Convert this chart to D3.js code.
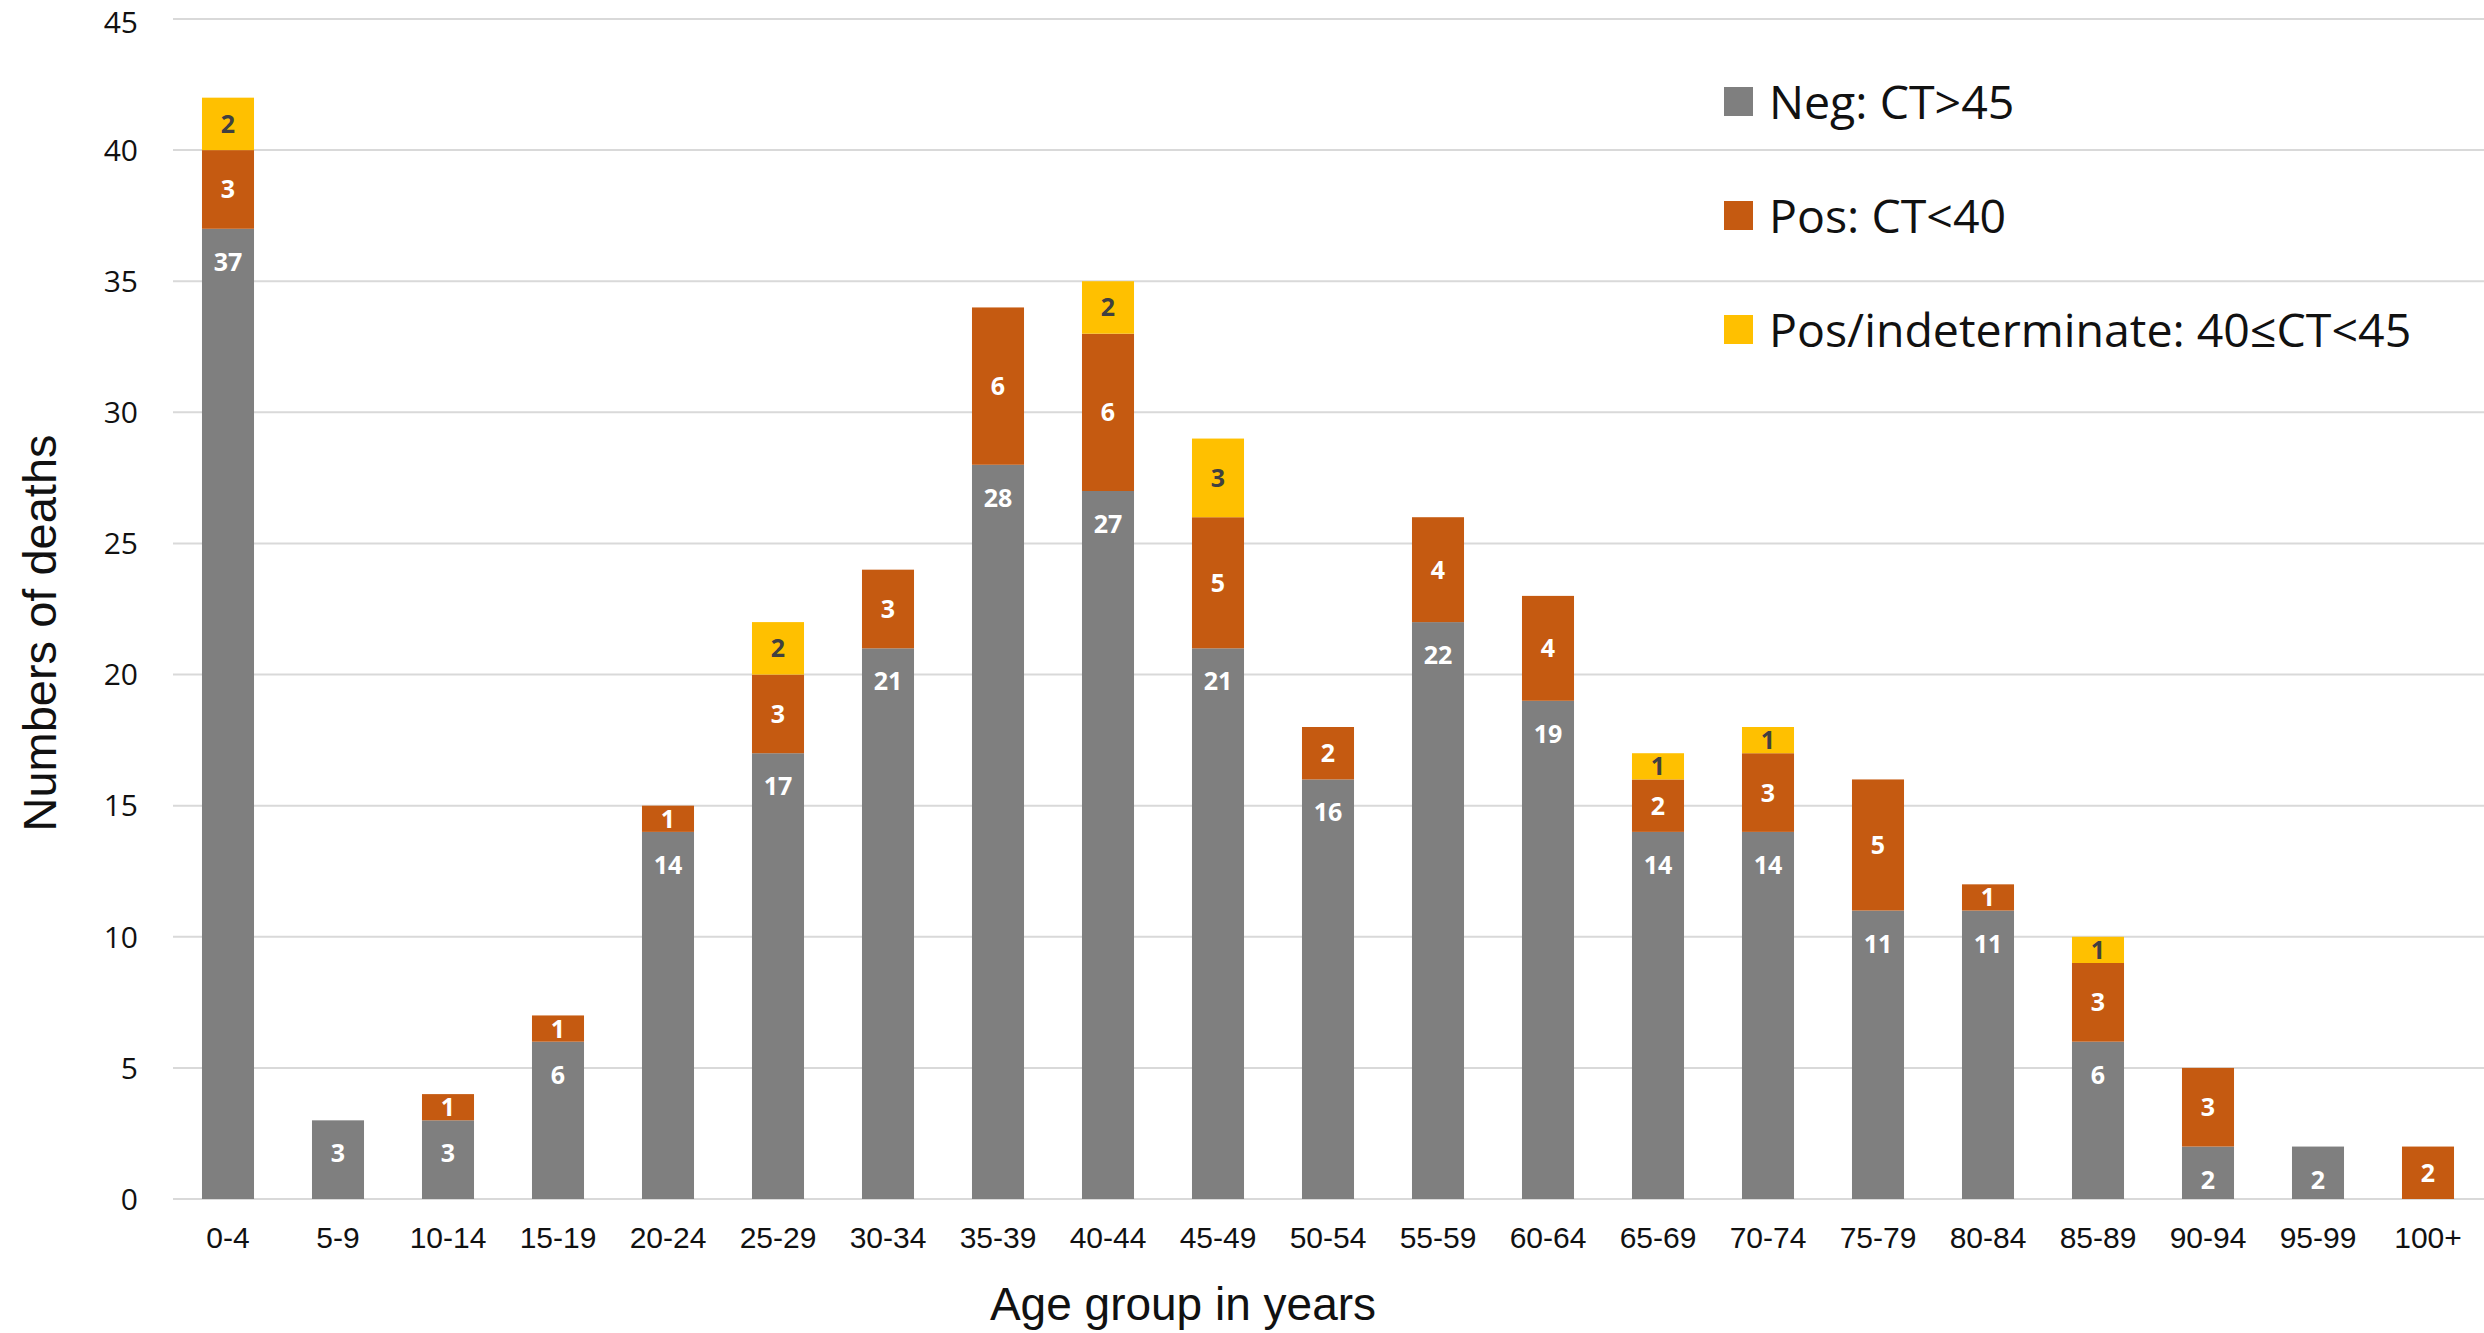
<!DOCTYPE html>
<html>
<head>
    <meta charset="utf-8">
    <title>Deaths by age group</title>
    <style type="text/css">
        body {
            margin: 0;
            background: #fff;
        }

        .grid line {
            stroke: #d9d9d9;
            stroke-width: 2;
        }
    </style>
</head>
<body>

<div id="chart"></div>

<script src="https://cdn.jsdelivr.net/npm/d3@7"></script>
<script type="text/javascript">
    // age groups on the x axis
    var ageGroups = ["0-4", "5-9", "10-14", "15-19", "20-24", "25-29", "30-34", "35-39", "40-44", "45-49",
        "50-54", "55-59", "60-64", "65-69", "70-74", "75-79", "80-84", "85-89", "90-94", "95-99", "100+"];

    // series values, bottom to top of each stack
    var negValues = [37, 3, 3, 6, 14, 17, 21, 28, 27, 21, 16, 22, 19, 14, 14, 11, 11, 6, 2, 2, 0];
    var posValues = [3, 0, 1, 1, 1, 3, 3, 6, 6, 5, 2, 4, 4, 2, 3, 5, 1, 3, 3, 0, 2];
    var indetValues = [2, 0, 0, 0, 0, 2, 0, 0, 2, 3, 0, 0, 0, 1, 1, 0, 0, 1, 0, 0, 0];

    var seriesNames = ["Neg: CT>45", "Pos: CT<40", "Pos/indeterminate: 40\u2264CT<45"];
    var seriesKeys = ["neg", "pos", "indet"];
    var yTicks = [0, 5, 10, 15, 20, 25, 30, 35, 40, 45];

    var colors = {neg: "#7f7f7f", pos: "#c55a11", indet: "#ffc000"};
    var labelColors = {neg: "#fff", pos: "#fff", indet: "#404040"};

    var rows = ageGroups.map(function (g, i) {
        return {age: g, neg: negValues[i], pos: posValues[i], indet: indetValues[i]};
    });

    var W = 2484, H = 1333;
    var svg = d3.select("#chart")
        .append("svg")
        .attr("width", W)
        .attr("height", H);

    var x = d3.scaleBand()
        .domain(ageGroups)
        .range([173, 2483])
        .paddingInner(0.527)
        .paddingOuter(0.2635);

    var y = d3.scaleLinear()
        .domain([0, 45])
        .range([1199, 19]);

    // horizontal gridlines
    svg.append("g").attr("class", "grid")
        .selectAll("line")
        .data(yTicks)
        .enter()
        .append("line")
        .attr("x1", 173)
        .attr("x2", W)
        .attr("y1", function (d) { return y(d); })
        .attr("y2", function (d) { return y(d); });

    // y tick labels (top one nudged so it stays inside the picture)
    svg.append("g")
        .selectAll("text")
        .data(yTicks)
        .enter()
        .append("text")
        .attr("x", 138)
        .attr("y", function (d) { return d === 45 ? y(d) + 3 : y(d); })
        .attr("dy", "0.36em")
        .attr("text-anchor", "end")
        .style("font-family", "'Open Sans', sans-serif")
        .style("font-size", "30px")
        .style("fill", "#111")
        .text(function (d) { return d; });

    // x axis labels
    var xAxis = svg.append("g")
        .attr("transform", "translate(0,1199)")
        .call(d3.axisBottom(x).tickSize(0).tickPadding(0));
    xAxis.select(".domain").remove();
    xAxis.selectAll("text")
        .attr("y", 38)
        .attr("dy", "0.36em")
        .style("font-family", "'Liberation Sans', Arial, sans-serif")
        .style("font-size", "30px")
        .style("fill", "#111");

    // stacked bars
    var stack = d3.stack().keys(seriesKeys);
    var layers = stack(rows);

    var layerG = svg.append("g")
        .selectAll("g")
        .data(layers)
        .enter()
        .append("g")
        .attr("fill", function (d) { return colors[d.key]; });

    layerG.selectAll("rect")
        .data(function (d) { return d.filter(function (s) { return s[1] > s[0]; }); })
        .enter()
        .append("rect")
        .attr("x", function (d) { return x(d.data.age); })
        .attr("width", x.bandwidth())
        .attr("y", function (d) { return y(d[1]); })
        .attr("height", function (d) { return y(d[0]) - y(d[1]); });

    // value labels: grey at inside end, others centred in segment
    layers.forEach(function (layer) {
        svg.append("g")
            .selectAll("text")
            .data(layer.filter(function (s) { return s[1] > s[0]; }))
            .enter()
            .append("text")
            .attr("x", function (d) { return x(d.data.age) + x.bandwidth() / 2; })
            .attr("y", function (d) {
                if (layer.key === "neg") return y(d[1]) + 33;
                return (y(d[0]) + y(d[1])) / 2;
            })
            .attr("dy", "0.36em")
            .attr("text-anchor", "middle")
            .style("font-family", "'Open Sans', sans-serif")
            .style("font-weight", "bold")
            .style("font-size", "25px")
            .style("fill", labelColors[layer.key])
            .text(function (d) { return d[1] - d[0]; });
    });

    // legend
    var legend = svg.append("g")
        .selectAll("g")
        .data(seriesKeys)
        .enter()
        .append("g")
        .attr("transform", function (d, i) { return "translate(1724," + (102 + i * 114) + ")"; });

    legend.append("rect")
        .attr("x", 0)
        .attr("y", -15)
        .attr("width", 29)
        .attr("height", 29)
        .attr("fill", function (d) { return colors[d]; });

    legend.append("text")
        .attr("x", 45)
        .attr("y", 0)
        .attr("dy", "0.36em")
        .style("font-family", "'Open Sans', sans-serif")
        .style("font-size", "46.5px")
        .style("fill", "#111")
        .text(function (d, i) { return seriesNames[i]; });

    // axis titles
    svg.append("text")
        .attr("x", 1183)
        .attr("y", 1320)
        .attr("text-anchor", "middle")
        .style("font-family", "'Liberation Sans', Arial, sans-serif")
        .style("font-size", "46px")
        .style("fill", "#111")
        .text("Age group in years");

    svg.append("text")
        .attr("transform", "translate(56,633) rotate(-90)")
        .attr("text-anchor", "middle")
        .style("font-family", "'Liberation Sans', Arial, sans-serif")
        .style("font-size", "47px")
        .style("fill", "#111")
        .text("Numbers of deaths");

</script>
</body>
</html>
